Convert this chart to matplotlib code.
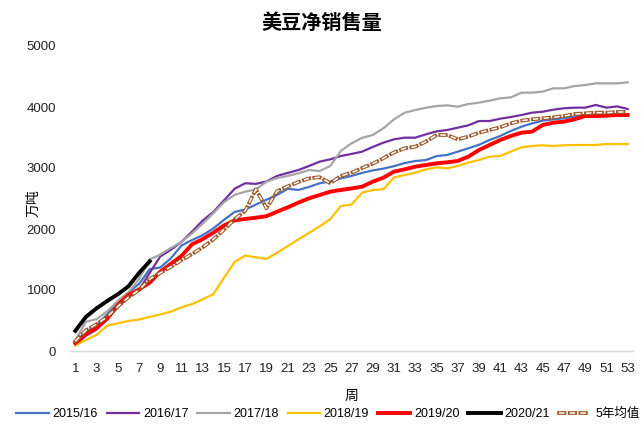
import matplotlib
matplotlib.use("Agg")
import matplotlib.pyplot as plt
import matplotlib.patheffects as pe

plt.rcParams['font.family'] = ['Liberation Sans', 'Noto Sans CJK SC', 'DejaVu Sans']

weeks = list(range(1, 54))

s2015 = [150, 310, 420, 600, 800, 960, 1100, 1340, 1370, 1520, 1730, 1820, 1900, 2010, 2150, 2280,
         2320, 2400, 2480, 2560, 2660, 2640, 2690, 2750, 2780, 2830, 2870, 2920, 2960, 2990, 3030,
         3080, 3115, 3130, 3195, 3213, 3268, 3323, 3380, 3459, 3525, 3607, 3677, 3732, 3776, 3798,
         3815, 3842, 3869, 3870, 3870, 3875, 3875]
s2016 = [100, 250, 350, 520, 720, 880, 1000, 1280, 1550, 1660, 1790, 1960, 2140, 2280, 2470, 2660,
         2750, 2740, 2780, 2870, 2920, 2967, 3033, 3104, 3142, 3197, 3230, 3268, 3345, 3415, 3470,
         3497, 3497, 3552, 3600, 3623, 3661, 3700, 3770, 3770, 3808, 3836, 3869, 3907, 3923, 3956,
         3979, 3989, 3989, 4033, 3989, 4010, 3967]
s2017 = [180, 480, 520, 650, 820, 960, 1180, 1500, 1580, 1690, 1790, 1930, 2090, 2260, 2440, 2560,
         2612, 2650, 2776, 2835, 2870, 2913, 2967, 2951, 3033, 3280, 3405, 3495, 3541, 3650, 3798,
         3906, 3950, 3988, 4016, 4027, 4005, 4049, 4071, 4104, 4142, 4158, 4235, 4235, 4252, 4306,
         4306, 4344, 4360, 4388, 4388, 4388, 4404]
s2018 = [90, 180, 265, 415, 454, 492, 515, 560, 600, 645, 716, 770, 847, 934, 1200, 1460, 1563,
         1536, 1510, 1610, 1720, 1830, 1935, 2045, 2160, 2377, 2400, 2595, 2639, 2650, 2846, 2885,
         2923, 2978, 3011, 2995, 3033, 3088, 3131, 3186, 3197, 3268, 3339, 3361, 3372, 3361, 3372,
         3377, 3377, 3377, 3393, 3393, 3393]
s2019 = [130, 280, 380, 530, 750, 920, 1010, 1120, 1300, 1430, 1560, 1750, 1835, 1940, 2060, 2140,
         2165, 2185, 2210, 2284, 2355, 2432, 2503, 2557, 2612, 2640, 2665, 2694, 2776, 2841, 2940,
         2978, 3022, 3049, 3077, 3093, 3115, 3186, 3295, 3377, 3459, 3525, 3579, 3596, 3705, 3743,
         3760, 3798, 3852, 3852, 3858, 3869, 3869]
s2020 = [330, 560, 700, 820, 930, 1060, 1280, 1470]
avg5 = [160, 340, 440, 560, 730, 880, 1000, 1180, 1280, 1380, 1490, 1590, 1700, 1830, 1990, 2160,
        2300, 2650, 2340, 2620, 2700, 2770, 2830, 2850, 2750, 2870, 2923, 3000, 3070, 3160, 3255,
        3323, 3350, 3432, 3541, 3541, 3470, 3514, 3579, 3623, 3667, 3732, 3776, 3798, 3815, 3831,
        3852, 3885, 3896, 3907, 3907, 3918, 3920]

labels = ['2015/16', '2016/17', '2017/18', '2018/19', '2019/20', '2020/21', '5年均值']
xticks = list(range(1, 54, 2))
yticks = [0, 1000, 2000, 3000, 4000, 5000]

fig = plt.figure(figsize=(6.43, 4.25), dpi=100)
ax = fig.add_axes([70/643, 1-351/425, (633-70)/643, (351-46)/425])

ax.plot(weeks, s2015, color='#4472C4', lw=1.6, label=labels[0])
ax.plot(weeks, s2016, color='#7030A0', lw=1.6, label=labels[1])
ax.plot(weeks, s2017, color='#A5A5A5', lw=1.6, label=labels[2])
ax.plot(weeks, s2018, color='#FFC000', lw=1.6, label=labels[3])
ax.plot(weeks, s2019, color='#FF0000', lw=2.8, label=labels[4])
ax.plot(weeks[:len(s2020)], s2020, color='#000000', lw=2.8, label=labels[5])
ax.plot(weeks, avg5, color='white', lw=1.1, dashes=(3.6, 3.4), dash_capstyle='butt',
        label=labels[6],
        path_effects=[pe.Stroke(linewidth=2.7, foreground='#9C5A2C', capstyle='projecting'),
                      pe.Normal()])

ax.set_xlim(0.5, 53.5)
ax.set_ylim(0, 5000)
ax.set_xticks(xticks)
ax.set_yticks(yticks)
ax.tick_params(axis='both', length=0, labelsize=9.5, colors='#222222')
ax.tick_params(axis='x', pad=9)
ax.tick_params(axis='y', pad=10)
for s in ['top', 'right', 'left']:
    ax.spines[s].set_visible(False)
ax.spines['bottom'].set_color('#D9D9D9')
ax.spines['bottom'].set_linewidth(1.0)

fig.text(0.5, 1-22/425, '美豆净销售量', ha='center', va='center', fontsize=14.5,
         fontweight='bold', family=['Noto Sans CJK SC', 'DejaVu Sans'])
fig.text(33/643, 1-203/425, '万吨', rotation=90, ha='center', va='center', fontsize=10,
         family=['Noto Sans CJK SC', 'DejaVu Sans'])
fig.text(351/643, 1-396/425, '周', ha='center', va='center', fontsize=10,
         family=['Noto Sans CJK SC', 'DejaVu Sans'])

leg = fig.legend(loc='center', bbox_to_anchor=(0.51, 1-414/425), ncol=7, frameon=False,
                 handlelength=2.6, columnspacing=0.7, handletextpad=0.3,
                 prop={'family': ['Liberation Sans', 'Noto Sans CJK SC'], 'size': 9})

fig.savefig('out.png', dpi=100)
